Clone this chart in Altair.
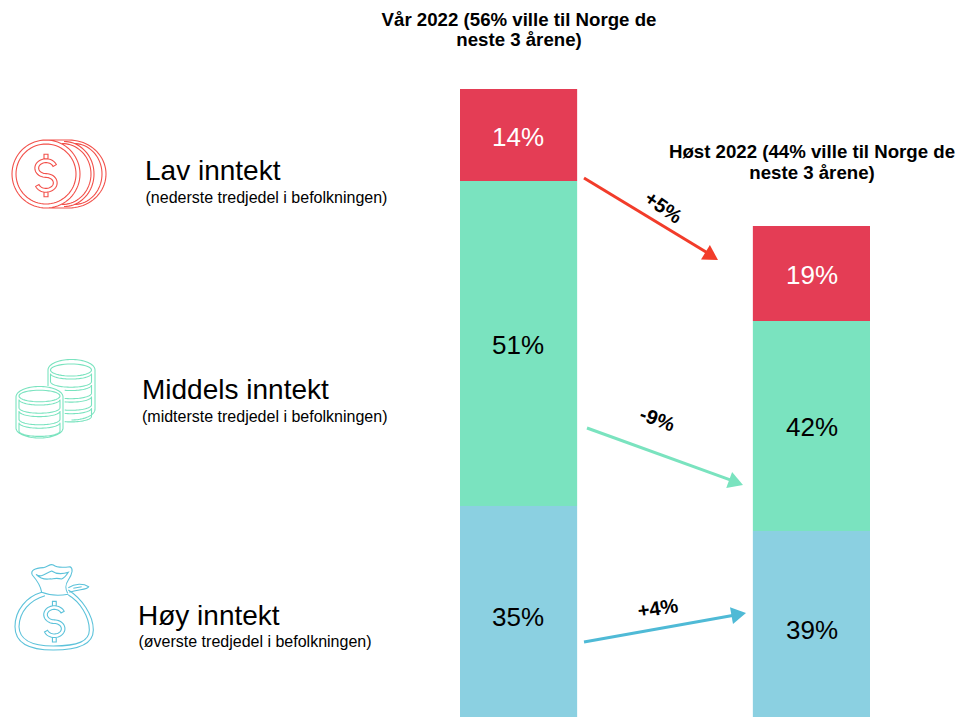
import math
import altair as alt
import pandas as pd

# ---- values ----
waves = ["Vår 2022", "Høst 2022"]
incomes = ["Høy inntekt", "Middels inntekt", "Lav inntekt"]
spring_share_of_all = [19.36, 28.6, 8.096]      # segment sizes, points of all respondents
autumn_share_of_all = [17.16, 18.48, 8.36]
spring_labels = ["35%", "51%", "14%"]
autumn_labels = ["39%", "42%", "19%"]
delta_labels = ["+5%", "-9%", "+4%"]
title_lines_spring = ["Vår 2022 (56% ville til Norge de", "neste 3 årene)"]
title_lines_autumn = ["Høst 2022 (44% ville til Norge de", "neste 3 årene)"]
group_names = ["Lav inntekt", "Middels inntekt", "Høy inntekt"]
group_notes = ["(nederste tredjedel i befolkningen)", "(midterste tredjedel i befolkningen)", "(øverste tredjedel i befolkningen)"]

# ---- styling ----
FONT = "Liberation Sans"
RED, GREEN, BLUE = "#E43D55", "#7AE3BF", "#8BD0E1"
ARROW_RED, ARROW_BLUE = "#F23C2A", "#4FBAD6"
ICON_RED, ICON_BLUE = "#F2504A", "#5CC2DA"
W, H = 955, 709
PAGE_BOTTOM = 8 + H
PX = 500 / 44  # pixels per point of all respondents

rows = []
for wave, values in zip(waves, [spring_share_of_all, autumn_share_of_all]):
    base = 0.0
    for inc, v in zip(incomes, values):
        rows.append({"wave": wave, "income": inc, "y0": base, "y1": base + v})
        base += v
bars = alt.Chart(pd.DataFrame(rows)).mark_bar().encode(
    x=alt.X("wave:N", axis=None, sort=waves,
            scale=alt.Scale(domain=waves, range=[452, 862], paddingInner=0.6, paddingOuter=0)),
    y=alt.Y("y0:Q", axis=None, scale=alt.Scale(domain=[(726 - PAGE_BOTTOM) / PX, (726 - 8) / PX], nice=False, zero=False)),
    y2="y1:Q",
    color=alt.Color("income:N", legend=None,
                    scale=alt.Scale(domain=incomes, range=[BLUE, GREEN, RED])),
)

PXX = alt.Scale(domain=[8, 8 + W], nice=False, zero=False)
PXY = alt.Scale(domain=[PAGE_BOTTOM, 8], nice=False, zero=False)
X = alt.X("x:Q", axis=None, scale=PXX)
Y = alt.Y("y:Q", axis=None, scale=PXY)


def texts(frame, **mark):
    return alt.Chart(pd.DataFrame(frame)).mark_text(font=FONT, baseline="middle", **mark).encode(
        x=X, y=Y, text="t:N",
        color=alt.Color("c:N", scale=None),
        angle=alt.Angle("a:Q", scale=None),
    )


def T(t, x, y, c="#000000", a=0):
    return {"t": t, "x": x, "y": y, "c": c, "a": a}


big = texts([T(group_names[0], 145, 172), T(group_names[1], 142, 391), T(group_names[2], 138, 617)],
            align="left", fontSize=28)
notes = texts([T(group_notes[0], 145.5, 198), T(group_notes[1], 142, 417), T(group_notes[2], 138.5, 642)],
              align="left", fontSize=16)
vals = texts([T(spring_labels[2], 518, 138, "#FFFFFF"), T(spring_labels[1], 518, 346), T(spring_labels[0], 518, 618),
              T(autumn_labels[2], 812, 276, "#FFFFFF"), T(autumn_labels[1], 812, 428), T(autumn_labels[0], 812, 631)],
             align="center", fontSize=26)
titles = texts([T(title_lines_spring[0], 519, 19.5), T(title_lines_spring[1], 519, 39.5),
                T(title_lines_autumn[0], 812, 152), T(title_lines_autumn[1], 812, 173)],
               align="center", fontSize=18.67, fontWeight="bold")
deltas = texts([T(delta_labels[0], 663, 208, a=35), T(delta_labels[1], 657, 420, a=20), T(delta_labels[2], 658, 609, a=352)],
               align="center", fontSize=20, fontWeight="bold")

# ---- arrows ----
arrow_ends = [((584, 178), (718, 260), ARROW_RED), ((587, 428), (743, 485), GREEN), ((584, 642), (746, 613), ARROW_BLUE)]
shafts, heads = [], []
HEAD_R = 8.5
HEAD_H = HEAD_R * math.sqrt(3) / 2
for (x0, y0), (x1, y1), c in arrow_ends:
    L = math.hypot(x1 - x0, y1 - y0)
    ux, uy = (x1 - x0) / L, (y1 - y0) / L
    shafts.append({"x": x0, "y": y0, "x2": x1 - 2 * HEAD_H * ux + 1, "y2": y1 - 2 * HEAD_H * uy, "c": c})
    heads.append({"x": x1 - HEAD_H * ux, "y": y1 - HEAD_H * uy, "c": c,
                  "a": math.degrees(math.atan2(ux, -uy)) % 360})
shaft = alt.Chart(pd.DataFrame(shafts)).mark_rule(strokeWidth=3).encode(
    x=X, y=Y, x2="x2:Q", y2="y2:Q", color=alt.Color("c:N", scale=None))
head = alt.Chart(pd.DataFrame(heads)).mark_point(
    shape="triangle-up", filled=True, opacity=1, size=(2 * HEAD_R) ** 2).encode(
    x=X, y=Y, color=alt.Color("c:N", scale=None), angle=alt.Angle("a:Q", scale=None))


# ---- icons: outlines drawn as SVG paths, one path unit = one pixel at size=4 ----
def fmt(v):
    return f"{v:.2f}"


def poly(pts, closed=False):
    s = "M" + " L".join(f"{fmt(x)} {fmt(y)}" for x, y in pts)
    return s + (" Z " if closed else " ")


def ell(cx, cy, rx, ry, a0, a1, n=40):
    return [(cx + rx * math.cos(math.radians(a0 + (a1 - a0) * i / n)),
             cy + ry * math.sin(math.radians(a0 + (a1 - a0) * i / n))) for i in range(n + 1)]


def dollar(cx, cy, height):
    k = height / 41
    r = 7.4 * k
    line = ell(cx, cy - r, r * 1.25, r, -20, -270, 30) + ell(cx, cy + r, r * 1.25, r, -90, 160, 30)
    out, inn = [], []
    w = 1.9 * k
    for i, (x, y) in enumerate(line):
        a = line[max(i - 1, 0)]
        b = line[min(i + 1, len(line) - 1)]
        dx, dy = b[0] - a[0], b[1] - a[1]
        d = math.hypot(dx, dy) or 1
        out.append((x + dy / d * w, y - dx / d * w))
        inn.append((x - dy / d * w, y + dx / d * w))
    s = poly(out + inn[::-1], True)
    top = cy - 2 * r - w
    bot = cy + 2 * r + w
    hw, th = 2.0 * k, 4.6 * k
    s += poly([(cx - hw, top), (cx - hw, top - th), (cx + hw, top - th), (cx + hw, top)])
    s += poly([(cx - hw, bot), (cx - hw, bot + th), (cx + hw, bot + th), (cx + hw, bot)])
    return s


def coin_icon():
    c = (46, 174)
    s = poly(ell(0, 0, 34, 34, 0, 360, 72), True) + poly(ell(0, 0, 30, 30, 0, 360, 72), True)
    s += dollar(0, 1.5, 41)
    # coins behind: each one bulges further right and joins the outline at top and bottom
    s += poly(ell(16, 0, 29, 30.5, -90, 90))
    s += poly(ell(18, 0, 30, 32.5, -90, 90))
    s += poly(ell(28, 0, 28, 30.5, -90, 90))
    s += poly([(0, -34)] + ell(23, 0, 37, 34, -90, 90) + [(0, 34)])
    return c, s


def stack_side(cx, ytop, rows_n, xmin=None):
    s = ""
    rx_in = 20.5
    for i in range(rows_n):
        y = ytop + i * 11.6
        top = [p for p in ell(cx, y, rx_in, 5.5, 180, 0) if xmin is None or p[0] >= xmin]
        bot = [p for p in ell(cx, y + 8.2, rx_in, 5.5, 180, 0) if xmin is None or p[0] >= xmin]
        pts = top + bot[::-1]
        s += poly(pts, xmin is None)
    return s


def stacks_icon():
    c = (0, 0)
    s = poly(ell(71, 370, 20.5, 6, 0, 360), True)
    s += poly([(48, 386)] + ell(71.5, 370, 23.5, 10.5, 180, 360) + [(95, 409)] + ell(71.5, 409, 23.5, 11, 0, 90)[::1])
    s += stack_side(71, 373.5, 1)
    s += stack_side(71, 385, 3, xmin=64)
    s += poly(ell(39.5, 396, 20.5, 5.8, 0, 360), True)
    s += poly(ell(39.5, 397, 23.5, 10.5, 180, 360) + ell(39.5, 428, 23.5, 10, 0, 180), True)
    s += stack_side(39.5, 399.5, 3)
    return c, s


def bag_icon():
    def P(*v):
        return " ".join(fmt(v[i] / 3) + " " + fmt(v[i + 1] / 3) for i in range(0, len(v), 2))
    s = ""
    s += "M" + P(125, 112) + " C" + P(80, 125, 45, 165, 45, 215) + " C" + P(45, 260, 80, 285, 160, 285)
    s += " C" + P(240, 285, 280, 265, 280, 225) + " C" + P(280, 180, 245, 130, 205, 105) + " "
    s += "M" + P(135, 122) + " C" + P(90, 135, 58, 170, 57, 215) + " C" + P(58, 250, 90, 273, 160, 273)
    s += " C" + P(235, 273, 268, 258, 268, 225) + " C" + P(268, 185, 240, 140, 205, 120) + " "
    s += "M" + P(125, 112) + " C" + P(150, 122, 180, 122, 205, 118) + " "
    s += "M" + P(125, 112) + " C" + P(122, 90, 110, 75, 97, 60) + " C" + P(90, 45, 105, 40, 130, 38)
    s += " C" + P(145, 35, 150, 25, 160, 30) + " C" + P(170, 38, 190, 38, 210, 35)
    s += " C" + P(220, 40, 218, 55, 205, 75) + " C" + P(195, 90, 195, 100, 203, 115) + " "
    s += "M" + P(108, 58) + " C" + P(125, 70, 135, 55, 155, 48) + " C" + P(165, 55, 180, 60, 205, 52)
    s += " C" + P(200, 60, 195, 68, 185, 72) + " C" + P(170, 68, 165, 70, 155, 72) + " C" + P(145, 70, 130, 80, 108, 58) + " "
    s += "M" + P(205, 98) + " C" + P(225, 85, 250, 85, 266, 95) + " C" + P(262, 105, 235, 102, 208, 112) + " "
    s += "M" + P(220, 100) + " L" + P(245, 95) + " "
    s += dollar(163 / 3, 200 / 3, 39)
    return (0, 555), s


def icon(spec, color):
    (x, y), path = spec
    return alt.Chart(pd.DataFrame([{"x": x, "y": y}])).mark_point(
        shape=path, size=4, filled=False, opacity=1, stroke=color, strokeWidth=1.1, fill="transparent",
    ).encode(x=X, y=Y)


annot = alt.layer(big, notes, vals, titles, deltas, shaft, head,
                  icon(coin_icon(), ICON_RED), icon(stacks_icon(), GREEN), icon(bag_icon(), ICON_BLUE))

chart = alt.layer(bars, annot).resolve_scale(x="independent", y="independent", color="independent").properties(
    width=W, height=H, padding=0, autosize="none",
).configure_view(stroke=None)

chart.save("out.html", embed_options={"renderer": "svg", "actions": False})
